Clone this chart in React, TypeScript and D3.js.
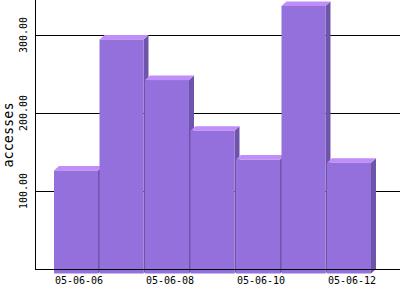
import React from "react";
import * as d3 from "d3";

const categories = ["05-06-06", "05-06-07", "05-06-08", "05-06-09", "05-06-10", "05-06-11", "05-06-12"];
const values = [132, 300, 248, 183, 146, 343, 142];
const yTicks = [100, 200, 300];
const yTickLabels = ["100.00", "200.00", "300.00"];
const xLabelIdx = [0, 2, 4, 6];

const W = 400, H = 300;
const axisX = 35;
const baseY = 269;
const DX = 5, DY = 4.5;

export default function App() {
  const y = d3.scaleLinear().domain([0, 269 / 0.78]).range([baseY, 0]);
  const x = d3.scaleBand<string>().domain(categories).range([54, 54 + 7 * 45.5]).paddingInner(0).paddingOuter(0);
  const fw = x.bandwidth() - 1.5;
  const font = "'DejaVu Sans Mono', monospace";
  return (
    <svg width={W} height={H} style={{ position: "absolute", left: 0, top: 0, background: "#fff" }}>
      <rect width={W} height={H} fill="#fff" />
      {yTicks.map((t) => (
        <line key={t} x1={axisX} x2={W} y1={Math.round(y(t)) + 0.5} y2={Math.round(y(t)) + 0.5} stroke="#000" strokeWidth={1} shapeRendering="crispEdges" />
      ))}
      {categories.map((c, i) => {
        const x0 = x(c)!;
        const x1 = x0 + fw;
        const yt = y(values[i]) + DY;
        const yb = y(0) + DY;
        const side = `M${x1},${yt}L${x1 + DX},${yt - DY}L${x1 + DX},${yb - DY}L${x1},${yb}Z`;
        const top = `M${x0},${yt}L${x0 + DX},${yt - DY}L${x1 + DX},${yt - DY}L${x1},${yt}Z`;
        return (
          <g key={c}>
            <path d={side} fill="#6E55AA" />
            <path d={top} fill="#C08EF8" />
            <rect x={x0} y={yt} width={fw} height={yb - yt} fill="#9370DB" />
          </g>
        );
      })}
      <line x1={axisX + 0.5} x2={axisX + 0.5} y1={0} y2={baseY} stroke="#000" shapeRendering="crispEdges" />
      <line x1={axisX} x2={W} y1={baseY + 0.5} y2={baseY + 0.5} stroke="#000" shapeRendering="crispEdges" />
      {yTicks.map((t, i) => (
        <text key={t} transform={`translate(27,${y(t)}) rotate(-90)`} textAnchor="middle" fontFamily={font} fontSize={10} fill="#000">
          {yTickLabels[i]}
        </text>
      ))}
      {xLabelIdx.map((i) => (
        <text key={i} x={x(categories[i])! + 25} y={284} textAnchor="middle" fontFamily={font} fontSize={10} fill="#000">
          {categories[i]}
        </text>
      ))}
      <text transform={`translate(13,135) rotate(-90)`} textAnchor="middle" fontFamily={font} fontSize={13.5} fill="#000">
        accesses
      </text>
    </svg>
  );
}
